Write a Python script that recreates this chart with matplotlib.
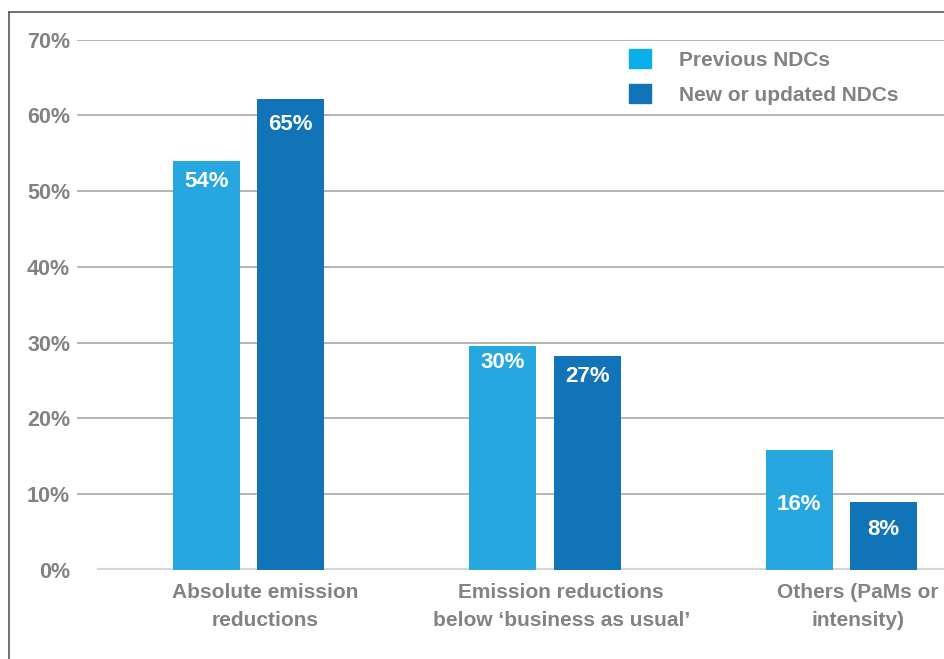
import matplotlib
matplotlib.use("Agg")
import matplotlib.pyplot as plt
from matplotlib.lines import Line2D
import numpy as np

# Data
categories = ['Absolute emission\nreductions',
              'Emission reductions\nbelow \u2018business as usual\u2019',
              'Others (PaMs or\nintensity)']
series_names = ['Previous NDCs', 'New or updated NDCs']
previous = [54, 29.6, 15.8]
updated = [62.2, 28.3, 9.0]
previous_labels = ['54%', '30%', '16%']
updated_labels = ['65%', '27%', '8%']
yticks = [0, 10, 20, 30, 40, 50, 60, 70]

light = '#27a7df'
dark = '#1173b8'
grey_text = '#828282'
plt.rcParams['font.family'] = ['Liberation Sans', 'DejaVu Sans']
plt.rcParams['font.weight'] = 'bold'

fig = plt.figure(figsize=(9.45, 6.59), dpi=100)
ax = fig.add_axes([77 / 945, 89 / 659, 868 / 945, (570 - 39.5) / 659])

x = np.arange(len(categories))
w = 0.226
off = 0.1425
b1 = ax.bar(x - off, previous, w, color=light, zorder=3)
b2 = ax.bar(x + off, updated, w, color=dark, zorder=3)

# value labels inside bars (drop below top in pixels)
drop_prev = [21, 17, 54]
drop_new = [26, 21, 28]
for bars, labs, drops in [(b1, previous_labels, drop_prev), (b2, updated_labels, drop_new)]:
    for r, lab, d in zip(bars, labs, drops):
        ax.annotate(lab, (r.get_x() + r.get_width() / 2, r.get_height()),
                    xytext=(0, -d), textcoords='offset pixels',
                    ha='center', va='center', color='white',
                    fontsize=16, fontweight='bold', zorder=4)

ax.set_xlim(-0.578, 2.349)
ax.set_ylim(0, 70)

# grid lines
for yv in yticks[1:]:
    ax.axhline(yv, color='#b4b4b4', lw=1.4, zorder=1)
ax.axhline(0, xmin=(99 - 77) / 868, xmax=1, color='#d6d6d6', lw=3, zorder=2)

ax.set_yticks(yticks)
ax.set_yticklabels([f'{v}%' for v in yticks], fontsize=15.5, color=grey_text,
                   fontweight='bold')
ax.set_xticks(x + 0.055)
ax.set_xticklabels(categories, fontsize=15, color=grey_text, fontweight='bold',
                   linespacing=1.6)
ax.tick_params(length=0)
ax.tick_params(axis='y', pad=5)
ax.tick_params(axis='x', pad=9)
for s in ax.spines.values():
    s.set_visible(False)

# legend
handles = [plt.Rectangle((0, 0), 1, 1, color='#0aaee9'),
           plt.Rectangle((0, 0), 1, 1, color=dark)]
leg = fig.legend(handles, series_names, loc='upper left',
                 bbox_to_anchor=(629 / 945, 1 - 49 / 659),
                 frameon=False, fontsize=15, handlelength=1.06, handleheight=1.06,
                 handletextpad=1.35, labelspacing=0.68, borderpad=0,
                 borderaxespad=0)
for t in leg.get_texts():
    t.set_color(grey_text)
    t.set_fontweight('bold')

# outer frame (left and top visible)
fig.add_artist(Line2D([9 / 945, 9 / 945], [0, (659 - 12) / 659],
                      color='#505a64', lw=1.2, transform=fig.transFigure))
fig.add_artist(Line2D([9 / 945, 1], [(659 - 12) / 659, (659 - 12) / 659],
                      color='#505a64', lw=1.2, transform=fig.transFigure))

fig.savefig('out.png', dpi=100, facecolor='white')
